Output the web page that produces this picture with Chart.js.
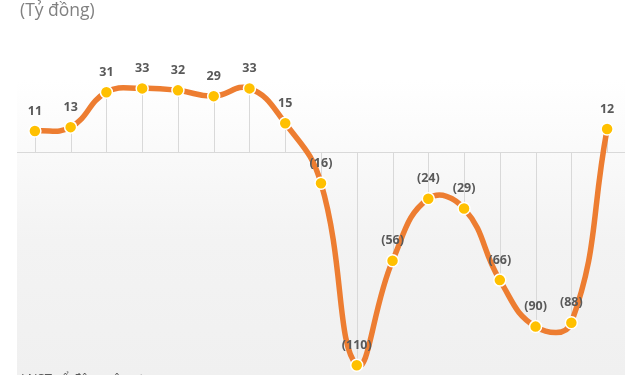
<!DOCTYPE html>
<html><head><meta charset="utf-8">
<script src="https://cdn.jsdelivr.net/npm/chart.js@4/dist/chart.umd.min.js"></script>
<style>
html,body{margin:0;padding:0;background:#fff;width:640px;height:375px;overflow:hidden;}
#wrap{position:relative;width:640px;height:375px;overflow:hidden;}
#title{position:absolute;left:20px;top:-3px;font-family:"Open Sans",sans-serif;font-size:17.5px;color:#808080;}
#foot{position:absolute;left:21px;top:369px;font-family:"Open Sans",sans-serif;font-size:13px;color:#595959;white-space:nowrap;}
canvas{position:absolute;left:0;top:0;}
</style></head>
<body><div id="wrap"><canvas id="c" width="640" height="375"></canvas>
<div id="title">(Tỷ đồng)</div>
<div id="foot">LNST cổ đông công ty mẹ</div></div>
<script>
const categories = ["Q1","Q2","Q3","Q4","Q5","Q6","Q7","Q8","Q9","Q10","Q11","Q12","Q13","Q14","Q15","Q16","Q17"];
const profitValues = [11, 13, 31, 33, 32, 29, 33, 15, -16, -110, -56, -24, -29, -66, -90, -88, 12];
const yMin = -115, yMax = 58;

function fmt(v){ return v < 0 ? "(" + Math.abs(v) + ")" : String(v); }

const bgPlugin = {
  id: "bg",
  beforeDraw(chart){
    const {ctx, chartArea:a, scales} = chart;
    const g = ctx.createLinearGradient(0, a.top, 0, a.bottom);
    g.addColorStop(0, "#ffffff");
    g.addColorStop(0.12, "#ffffff");
    g.addColorStop(0.6, "#f3f3f3");
    g.addColorStop(1, "#f0f0f0");
    ctx.save();
    ctx.fillStyle = g;
    ctx.fillRect(a.left, a.top, a.right - a.left, a.bottom - a.top);
    const y0 = Math.round(scales.y.getPixelForValue(0)) + 0.5;
    ctx.strokeStyle = "#d9d9d9"; ctx.lineWidth = 1;
    ctx.beginPath(); ctx.moveTo(a.left, y0); ctx.lineTo(a.right, y0); ctx.stroke();
    ctx.restore();
  },
  beforeDatasetsDraw(chart){
    const {ctx, scales} = chart;
    const y0 = scales.y.getPixelForValue(0);
    ctx.save();
    ctx.strokeStyle = "#d9d9d9"; ctx.lineWidth = 1;
    profitValues.forEach((v,i)=>{
      const x = Math.round(scales.x.getPixelForValue(i)) + 0.5;
      ctx.beginPath(); ctx.moveTo(x, y0); ctx.lineTo(x, scales.y.getPixelForValue(v)); ctx.stroke();
    });
    ctx.restore();
  },
  afterDatasetsDraw(chart){
    const {ctx} = chart;
    const meta = chart.getDatasetMeta(0);
    ctx.save();
    ctx.font = "bold 12.5px 'Open Sans', sans-serif";
    ctx.fillStyle = "#595959";
    ctx.textAlign = "center"; ctx.textBaseline = "middle";
    meta.data.forEach((p,i)=>{
      ctx.fillText(fmt(profitValues[i]), p.x, p.y - 20);
    });
    ctx.restore();
  }
};

new Chart(document.getElementById("c"), {
  type: "line",
  data: {
    labels: categories,
    datasets: [{
      data: profitValues,
      borderColor: "#ED7D31",
      borderWidth: 5.5,
      tension: 0.45,
      pointRadius: 6,
      pointBackgroundColor: "#FFC000",
      pointBorderColor: "#ffffff",
      pointBorderWidth: 1.5,
      clip: false
    }]
  },
  options: {
    responsive: false,
    animation: false,
    layout: { autoPadding: false, padding: { left: 17, right: 15, top: 40, bottom: 0 } },
    plugins: { legend: { display: false }, tooltip: { enabled: false } },
    scales: {
      x: { display: false, offset: true },
      y: { display: false, min: yMin, max: yMax }
    }
  },
  plugins: [bgPlugin]
});
</script>
</body></html>
